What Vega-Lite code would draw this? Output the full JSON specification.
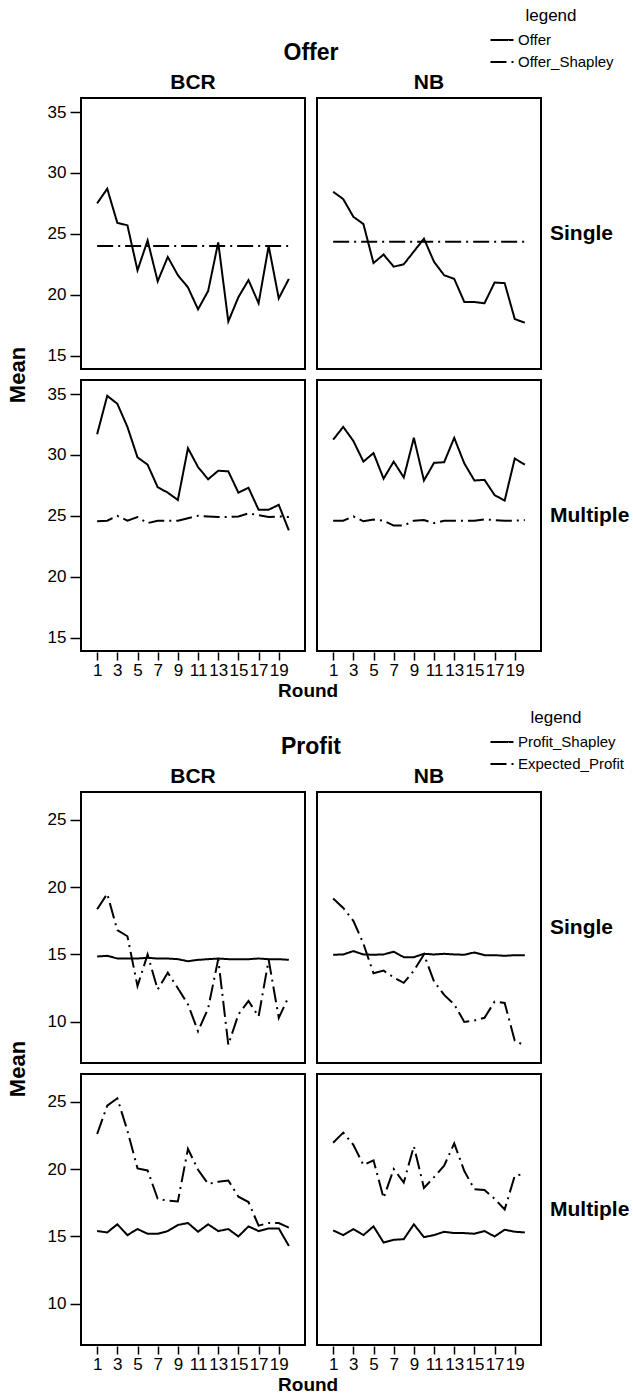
{
"$schema": "https://vega.github.io/schema/vega-lite/v6.json",
"background": "white",
"padding": {"left": 7, "top": 8, "right": 0, "bottom": 0},
"datasets": {
"offer": [
{"m":"BCR","c":"Single","r":1,"Offer":27.5,"Offer_Shapley":24.0},
{"m":"BCR","c":"Single","r":2,"Offer":28.7,"Offer_Shapley":24.0},
{"m":"BCR","c":"Single","r":3,"Offer":25.9,"Offer_Shapley":24.0},
{"m":"BCR","c":"Single","r":4,"Offer":25.7,"Offer_Shapley":24.0},
{"m":"BCR","c":"Single","r":5,"Offer":22.0,"Offer_Shapley":24.0},
{"m":"BCR","c":"Single","r":6,"Offer":24.45,"Offer_Shapley":24.0},
{"m":"BCR","c":"Single","r":7,"Offer":21.1,"Offer_Shapley":24.0},
{"m":"BCR","c":"Single","r":8,"Offer":23.1,"Offer_Shapley":24.0},
{"m":"BCR","c":"Single","r":9,"Offer":21.6,"Offer_Shapley":24.0},
{"m":"BCR","c":"Single","r":10,"Offer":20.6,"Offer_Shapley":24.0},
{"m":"BCR","c":"Single","r":11,"Offer":18.8,"Offer_Shapley":24.0},
{"m":"BCR","c":"Single","r":12,"Offer":20.3,"Offer_Shapley":24.0},
{"m":"BCR","c":"Single","r":13,"Offer":24.3,"Offer_Shapley":24.0},
{"m":"BCR","c":"Single","r":14,"Offer":17.8,"Offer_Shapley":24.0},
{"m":"BCR","c":"Single","r":15,"Offer":19.8,"Offer_Shapley":24.0},
{"m":"BCR","c":"Single","r":16,"Offer":21.2,"Offer_Shapley":24.0},
{"m":"BCR","c":"Single","r":17,"Offer":19.3,"Offer_Shapley":24.0},
{"m":"BCR","c":"Single","r":18,"Offer":24.0,"Offer_Shapley":24.0},
{"m":"BCR","c":"Single","r":19,"Offer":19.7,"Offer_Shapley":24.0},
{"m":"BCR","c":"Single","r":20,"Offer":21.3,"Offer_Shapley":24.0},
{"m":"NB","c":"Single","r":1,"Offer":28.45,"Offer_Shapley":24.35},
{"m":"NB","c":"Single","r":2,"Offer":27.85,"Offer_Shapley":24.35},
{"m":"NB","c":"Single","r":3,"Offer":26.4,"Offer_Shapley":24.35},
{"m":"NB","c":"Single","r":4,"Offer":25.8,"Offer_Shapley":24.35},
{"m":"NB","c":"Single","r":5,"Offer":22.6,"Offer_Shapley":24.35},
{"m":"NB","c":"Single","r":6,"Offer":23.3,"Offer_Shapley":24.35},
{"m":"NB","c":"Single","r":7,"Offer":22.3,"Offer_Shapley":24.35},
{"m":"NB","c":"Single","r":8,"Offer":22.5,"Offer_Shapley":24.35},
{"m":"NB","c":"Single","r":9,"Offer":23.55,"Offer_Shapley":24.35},
{"m":"NB","c":"Single","r":10,"Offer":24.6,"Offer_Shapley":24.35},
{"m":"NB","c":"Single","r":11,"Offer":22.7,"Offer_Shapley":24.35},
{"m":"NB","c":"Single","r":12,"Offer":21.6,"Offer_Shapley":24.35},
{"m":"NB","c":"Single","r":13,"Offer":21.3,"Offer_Shapley":24.35},
{"m":"NB","c":"Single","r":14,"Offer":19.4,"Offer_Shapley":24.35},
{"m":"NB","c":"Single","r":15,"Offer":19.4,"Offer_Shapley":24.35},
{"m":"NB","c":"Single","r":16,"Offer":19.3,"Offer_Shapley":24.35},
{"m":"NB","c":"Single","r":17,"Offer":21.0,"Offer_Shapley":24.35},
{"m":"NB","c":"Single","r":18,"Offer":20.95,"Offer_Shapley":24.35},
{"m":"NB","c":"Single","r":19,"Offer":18.0,"Offer_Shapley":24.35},
{"m":"NB","c":"Single","r":20,"Offer":17.7,"Offer_Shapley":24.35},
{"m":"BCR","c":"Multiple","r":1,"Offer":31.7,"Offer_Shapley":24.55},
{"m":"BCR","c":"Multiple","r":2,"Offer":34.85,"Offer_Shapley":24.6},
{"m":"BCR","c":"Multiple","r":3,"Offer":34.2,"Offer_Shapley":25.0},
{"m":"BCR","c":"Multiple","r":4,"Offer":32.3,"Offer_Shapley":24.6},
{"m":"BCR","c":"Multiple","r":5,"Offer":29.8,"Offer_Shapley":24.9},
{"m":"BCR","c":"Multiple","r":6,"Offer":29.2,"Offer_Shapley":24.4},
{"m":"BCR","c":"Multiple","r":7,"Offer":27.35,"Offer_Shapley":24.6},
{"m":"BCR","c":"Multiple","r":8,"Offer":26.9,"Offer_Shapley":24.6},
{"m":"BCR","c":"Multiple","r":9,"Offer":26.3,"Offer_Shapley":24.6},
{"m":"BCR","c":"Multiple","r":10,"Offer":30.55,"Offer_Shapley":24.8},
{"m":"BCR","c":"Multiple","r":11,"Offer":29.0,"Offer_Shapley":25.0},
{"m":"BCR","c":"Multiple","r":12,"Offer":28.0,"Offer_Shapley":24.95},
{"m":"BCR","c":"Multiple","r":13,"Offer":28.7,"Offer_Shapley":24.9},
{"m":"BCR","c":"Multiple","r":14,"Offer":28.65,"Offer_Shapley":24.9},
{"m":"BCR","c":"Multiple","r":15,"Offer":26.9,"Offer_Shapley":24.95},
{"m":"BCR","c":"Multiple","r":16,"Offer":27.3,"Offer_Shapley":25.2},
{"m":"BCR","c":"Multiple","r":17,"Offer":25.5,"Offer_Shapley":25.05},
{"m":"BCR","c":"Multiple","r":18,"Offer":25.5,"Offer_Shapley":24.9},
{"m":"BCR","c":"Multiple","r":19,"Offer":25.9,"Offer_Shapley":24.95},
{"m":"BCR","c":"Multiple","r":20,"Offer":23.8,"Offer_Shapley":24.9},
{"m":"NB","c":"Multiple","r":1,"Offer":31.25,"Offer_Shapley":24.6},
{"m":"NB","c":"Multiple","r":2,"Offer":32.3,"Offer_Shapley":24.6},
{"m":"NB","c":"Multiple","r":3,"Offer":31.15,"Offer_Shapley":24.95},
{"m":"NB","c":"Multiple","r":4,"Offer":29.45,"Offer_Shapley":24.55},
{"m":"NB","c":"Multiple","r":5,"Offer":30.15,"Offer_Shapley":24.7},
{"m":"NB","c":"Multiple","r":6,"Offer":28.05,"Offer_Shapley":24.6},
{"m":"NB","c":"Multiple","r":7,"Offer":29.45,"Offer_Shapley":24.2},
{"m":"NB","c":"Multiple","r":8,"Offer":28.15,"Offer_Shapley":24.2},
{"m":"NB","c":"Multiple","r":9,"Offer":31.4,"Offer_Shapley":24.6},
{"m":"NB","c":"Multiple","r":10,"Offer":27.9,"Offer_Shapley":24.65},
{"m":"NB","c":"Multiple","r":11,"Offer":29.35,"Offer_Shapley":24.4},
{"m":"NB","c":"Multiple","r":12,"Offer":29.4,"Offer_Shapley":24.6},
{"m":"NB","c":"Multiple","r":13,"Offer":31.4,"Offer_Shapley":24.6},
{"m":"NB","c":"Multiple","r":14,"Offer":29.3,"Offer_Shapley":24.6},
{"m":"NB","c":"Multiple","r":15,"Offer":27.9,"Offer_Shapley":24.6},
{"m":"NB","c":"Multiple","r":16,"Offer":27.95,"Offer_Shapley":24.7},
{"m":"NB","c":"Multiple","r":17,"Offer":26.7,"Offer_Shapley":24.65},
{"m":"NB","c":"Multiple","r":18,"Offer":26.25,"Offer_Shapley":24.6},
{"m":"NB","c":"Multiple","r":19,"Offer":29.7,"Offer_Shapley":24.6},
{"m":"NB","c":"Multiple","r":20,"Offer":29.2,"Offer_Shapley":24.65}
],
"profit": [
{"m":"BCR","c":"Single","r":1,"Profit_Shapley":14.85,"Expected_Profit":18.35},
{"m":"BCR","c":"Single","r":2,"Profit_Shapley":14.9,"Expected_Profit":19.5},
{"m":"BCR","c":"Single","r":3,"Profit_Shapley":14.7,"Expected_Profit":16.8},
{"m":"BCR","c":"Single","r":4,"Profit_Shapley":14.7,"Expected_Profit":16.35},
{"m":"BCR","c":"Single","r":5,"Profit_Shapley":14.7,"Expected_Profit":12.65},
{"m":"BCR","c":"Single","r":6,"Profit_Shapley":14.75,"Expected_Profit":15.0},
{"m":"BCR","c":"Single","r":7,"Profit_Shapley":14.7,"Expected_Profit":12.4},
{"m":"BCR","c":"Single","r":8,"Profit_Shapley":14.7,"Expected_Profit":13.65},
{"m":"BCR","c":"Single","r":9,"Profit_Shapley":14.65,"Expected_Profit":12.5},
{"m":"BCR","c":"Single","r":10,"Profit_Shapley":14.5,"Expected_Profit":11.3},
{"m":"BCR","c":"Single","r":11,"Profit_Shapley":14.6,"Expected_Profit":9.3},
{"m":"BCR","c":"Single","r":12,"Profit_Shapley":14.65,"Expected_Profit":11.0},
{"m":"BCR","c":"Single","r":13,"Profit_Shapley":14.7,"Expected_Profit":14.65},
{"m":"BCR","c":"Single","r":14,"Profit_Shapley":14.65,"Expected_Profit":8.3},
{"m":"BCR","c":"Single","r":15,"Profit_Shapley":14.65,"Expected_Profit":10.55},
{"m":"BCR","c":"Single","r":16,"Profit_Shapley":14.65,"Expected_Profit":11.55},
{"m":"BCR","c":"Single","r":17,"Profit_Shapley":14.7,"Expected_Profit":10.4},
{"m":"BCR","c":"Single","r":18,"Profit_Shapley":14.65,"Expected_Profit":14.6},
{"m":"BCR","c":"Single","r":19,"Profit_Shapley":14.65,"Expected_Profit":10.3},
{"m":"BCR","c":"Single","r":20,"Profit_Shapley":14.6,"Expected_Profit":11.9},
{"m":"NB","c":"Single","r":1,"Profit_Shapley":14.98,"Expected_Profit":19.15},
{"m":"NB","c":"Single","r":2,"Profit_Shapley":15.0,"Expected_Profit":18.45},
{"m":"NB","c":"Single","r":3,"Profit_Shapley":15.25,"Expected_Profit":17.5},
{"m":"NB","c":"Single","r":4,"Profit_Shapley":15.0,"Expected_Profit":15.8},
{"m":"NB","c":"Single","r":5,"Profit_Shapley":14.98,"Expected_Profit":13.6},
{"m":"NB","c":"Single","r":6,"Profit_Shapley":15.0,"Expected_Profit":13.8},
{"m":"NB","c":"Single","r":7,"Profit_Shapley":15.2,"Expected_Profit":13.3},
{"m":"NB","c":"Single","r":8,"Profit_Shapley":14.8,"Expected_Profit":12.9},
{"m":"NB","c":"Single","r":9,"Profit_Shapley":14.8,"Expected_Profit":13.8},
{"m":"NB","c":"Single","r":10,"Profit_Shapley":15.05,"Expected_Profit":15.0},
{"m":"NB","c":"Single","r":11,"Profit_Shapley":15.0,"Expected_Profit":13.0},
{"m":"NB","c":"Single","r":12,"Profit_Shapley":15.05,"Expected_Profit":12.0},
{"m":"NB","c":"Single","r":13,"Profit_Shapley":15.0,"Expected_Profit":11.3},
{"m":"NB","c":"Single","r":14,"Profit_Shapley":14.98,"Expected_Profit":10.0},
{"m":"NB","c":"Single","r":15,"Profit_Shapley":15.15,"Expected_Profit":10.1},
{"m":"NB","c":"Single","r":16,"Profit_Shapley":14.95,"Expected_Profit":10.3},
{"m":"NB","c":"Single","r":17,"Profit_Shapley":14.95,"Expected_Profit":11.5},
{"m":"NB","c":"Single","r":18,"Profit_Shapley":14.9,"Expected_Profit":11.4},
{"m":"NB","c":"Single","r":19,"Profit_Shapley":14.95,"Expected_Profit":8.6},
{"m":"NB","c":"Single","r":20,"Profit_Shapley":14.95,"Expected_Profit":8.25},
{"m":"BCR","c":"Multiple","r":1,"Profit_Shapley":15.4,"Expected_Profit":22.6},
{"m":"BCR","c":"Multiple","r":2,"Profit_Shapley":15.3,"Expected_Profit":24.7},
{"m":"BCR","c":"Multiple","r":3,"Profit_Shapley":15.9,"Expected_Profit":25.25},
{"m":"BCR","c":"Multiple","r":4,"Profit_Shapley":15.1,"Expected_Profit":22.85},
{"m":"BCR","c":"Multiple","r":5,"Profit_Shapley":15.55,"Expected_Profit":20.05},
{"m":"BCR","c":"Multiple","r":6,"Profit_Shapley":15.2,"Expected_Profit":19.9},
{"m":"BCR","c":"Multiple","r":7,"Profit_Shapley":15.2,"Expected_Profit":17.8},
{"m":"BCR","c":"Multiple","r":8,"Profit_Shapley":15.4,"Expected_Profit":17.65},
{"m":"BCR","c":"Multiple","r":9,"Profit_Shapley":15.85,"Expected_Profit":17.6},
{"m":"BCR","c":"Multiple","r":10,"Profit_Shapley":16.0,"Expected_Profit":21.5},
{"m":"BCR","c":"Multiple","r":11,"Profit_Shapley":15.35,"Expected_Profit":19.95},
{"m":"BCR","c":"Multiple","r":12,"Profit_Shapley":15.9,"Expected_Profit":18.9},
{"m":"BCR","c":"Multiple","r":13,"Profit_Shapley":15.4,"Expected_Profit":19.05},
{"m":"BCR","c":"Multiple","r":14,"Profit_Shapley":15.55,"Expected_Profit":19.15},
{"m":"BCR","c":"Multiple","r":15,"Profit_Shapley":15.0,"Expected_Profit":17.95},
{"m":"BCR","c":"Multiple","r":16,"Profit_Shapley":15.75,"Expected_Profit":17.55},
{"m":"BCR","c":"Multiple","r":17,"Profit_Shapley":15.4,"Expected_Profit":15.8},
{"m":"BCR","c":"Multiple","r":18,"Profit_Shapley":15.6,"Expected_Profit":16.0},
{"m":"BCR","c":"Multiple","r":19,"Profit_Shapley":15.6,"Expected_Profit":16.0},
{"m":"BCR","c":"Multiple","r":20,"Profit_Shapley":14.3,"Expected_Profit":15.65},
{"m":"NB","c":"Multiple","r":1,"Profit_Shapley":15.45,"Expected_Profit":21.95},
{"m":"NB","c":"Multiple","r":2,"Profit_Shapley":15.1,"Expected_Profit":22.7},
{"m":"NB","c":"Multiple","r":3,"Profit_Shapley":15.55,"Expected_Profit":21.8},
{"m":"NB","c":"Multiple","r":4,"Profit_Shapley":15.1,"Expected_Profit":20.3},
{"m":"NB","c":"Multiple","r":5,"Profit_Shapley":15.75,"Expected_Profit":20.65},
{"m":"NB","c":"Multiple","r":6,"Profit_Shapley":14.55,"Expected_Profit":17.85},
{"m":"NB","c":"Multiple","r":7,"Profit_Shapley":14.75,"Expected_Profit":20.0},
{"m":"NB","c":"Multiple","r":8,"Profit_Shapley":14.8,"Expected_Profit":19.0},
{"m":"NB","c":"Multiple","r":9,"Profit_Shapley":15.9,"Expected_Profit":21.7},
{"m":"NB","c":"Multiple","r":10,"Profit_Shapley":14.95,"Expected_Profit":18.6},
{"m":"NB","c":"Multiple","r":11,"Profit_Shapley":15.1,"Expected_Profit":19.4},
{"m":"NB","c":"Multiple","r":12,"Profit_Shapley":15.35,"Expected_Profit":20.25},
{"m":"NB","c":"Multiple","r":13,"Profit_Shapley":15.25,"Expected_Profit":21.9},
{"m":"NB","c":"Multiple","r":14,"Profit_Shapley":15.25,"Expected_Profit":19.85},
{"m":"NB","c":"Multiple","r":15,"Profit_Shapley":15.2,"Expected_Profit":18.5},
{"m":"NB","c":"Multiple","r":16,"Profit_Shapley":15.4,"Expected_Profit":18.45},
{"m":"NB","c":"Multiple","r":17,"Profit_Shapley":15.0,"Expected_Profit":17.8},
{"m":"NB","c":"Multiple","r":18,"Profit_Shapley":15.5,"Expected_Profit":17.0},
{"m":"NB","c":"Multiple","r":19,"Profit_Shapley":15.35,"Expected_Profit":19.5},
{"m":"NB","c":"Multiple","r":20,"Profit_Shapley":15.3,"Expected_Profit":19.65}
]
},
"vconcat": [
{
"data": {"name": "offer"},
"transform": [{"fold": ["Offer", "Offer_Shapley"], "as": ["series", "v"]}],
"title": {"text": "Round", "orient": "bottom", "anchor": "middle", "fontSize": 19, "fontWeight": "bold", "offset": 4, "dx": -10, "color": "black"},
"facet": {
"column": {"field": "m", "type": "nominal", "sort": ["BCR", "NB"], "header": {"title": "Offer", "titleOrient": "top", "titlePadding": -3, "labelOrient": "top", "labelPadding": 4}},
"row": {"field": "c", "type": "nominal", "sort": ["Single", "Multiple"], "header": {"title": "Mean", "titleOrient": "left", "titleAngle": -90, "titleFontSize": 22, "titlePadding": -15, "labelOrient": "right", "labelAngle": 0, "labelPadding": 8}}
},
"spacing": {"column": 10, "row": 9},
"spec": {
"width": 224, "height": 271,
"mark": {"type": "line", "color": "black", "strokeWidth": 2},
"encoding": {
"x": {"field": "r", "type": "quantitative", "scale": {"domain": [-0.6, 21.6], "nice": false}, "axis": {"values": [1,3,5,7,9,11,13,15,17,19], "title": null, "tickSize": 8, "labelPadding": 2}},
"y": {"field": "v", "type": "quantitative", "scale": {"domain": [13.9, 36.15], "nice": false, "zero": false}, "axis": {"values": [15,20,25,30,35], "title": null}},
"strokeDash": {"field": "series", "type": "nominal", "scale": {"domain": ["Offer", "Offer_Shapley"], "range": [[1, 0], [16, 5, 2, 5]]}, "legend": {"title": "legend", "orient": "none", "legendX": 408, "legendY": -90}}
}
}
},
{
"data": {"name": "profit"},
"transform": [{"fold": ["Profit_Shapley", "Expected_Profit"], "as": ["series", "v"]}],
"title": {"text": "Round", "orient": "bottom", "anchor": "middle", "fontSize": 19, "fontWeight": "bold", "offset": 4, "dx": -10, "color": "black"},
"facet": {
"column": {"field": "m", "type": "nominal", "sort": ["BCR", "NB"], "header": {"title": "Profit", "titleOrient": "top", "titlePadding": -3, "labelOrient": "top", "labelPadding": 4}},
"row": {"field": "c", "type": "nominal", "sort": ["Single", "Multiple"], "header": {"title": "Mean", "titleOrient": "left", "titleAngle": -90, "titleFontSize": 22, "titlePadding": -15, "labelOrient": "right", "labelAngle": 0, "labelPadding": 8}}
},
"spacing": {"column": 10, "row": 9},
"spec": {
"width": 224, "height": 271,
"mark": {"type": "line", "color": "black", "strokeWidth": 2},
"encoding": {
"x": {"field": "r", "type": "quantitative", "scale": {"domain": [-0.6, 21.6], "nice": false}, "axis": {"values": [1,3,5,7,9,11,13,15,17,19], "title": null, "tickSize": 8, "labelPadding": 2}},
"y": {"field": "v", "type": "quantitative", "scale": {"domain": [6.95, 27.05], "nice": false, "zero": false}, "axis": {"values": [10,15,20,25], "title": null}},
"strokeDash": {"field": "series", "type": "nominal", "scale": {"domain": ["Profit_Shapley", "Expected_Profit"], "range": [[1, 0], [16, 5, 2, 5]]}, "legend": {"title": "legend", "orient": "none", "legendX": 408, "legendY": -82}}
}
}
}
],
"spacing": 9,
"resolve": {"scale": {"x": "independent", "y": "independent", "strokeDash": "independent"}, "legend": {"strokeDash": "independent"}},
"config": {
"font": "Liberation Sans",
"view": {"stroke": "black", "strokeWidth": 2},
"axis": {"domain": false, "grid": false, "tickColor": "black", "tickSize": 10, "tickWidth": 1.5, "labelColor": "black", "labelFontSize": 17, "labelPadding": 4, "labelFont": "Liberation Sans"},
"header": {"labelFont": "Liberation Sans", "labelFontSize": 21, "labelFontWeight": "bold", "labelColor": "black", "titleFont": "Liberation Sans", "titleFontSize": 23, "titleFontWeight": "bold", "titleColor": "black"},
"legend": {"titleFont": "Liberation Sans", "titleFontWeight": "normal", "titleFontSize": 17, "titleColor": "black", "titleAnchor": "middle", "titlePadding": 2, "labelFont": "Liberation Sans", "labelFontSize": 15, "labelColor": "black", "symbolType": "stroke", "symbolSize": 530, "symbolStrokeWidth": 2, "symbolStrokeColor": "black", "rowPadding": 1, "labelOffset": 3},
"title": {"font": "Liberation Sans"}
}
}
